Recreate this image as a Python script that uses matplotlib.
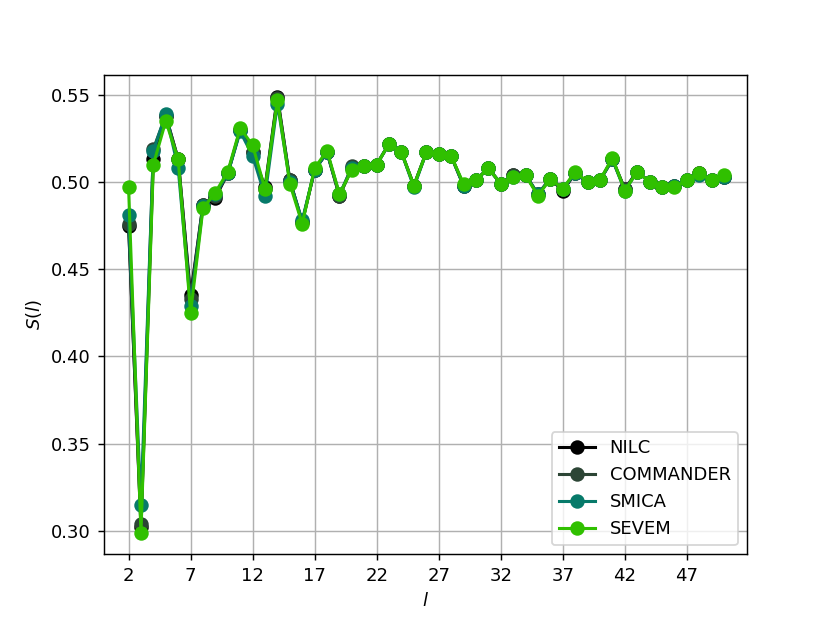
import numpy as np
import matplotlib
matplotlib.use("Agg")
import matplotlib.pyplot as plt

# multipoles
ell = np.arange(2, 51)

sevem = [0.497, 0.299, 0.510, 0.535, 0.513, 0.425, 0.485, 0.494, 0.506, 0.531,
         0.521, 0.496, 0.547, 0.499, 0.476, 0.508, 0.518, 0.493, 0.507, 0.509,
         0.510, 0.522, 0.517, 0.498, 0.517, 0.516, 0.515, 0.499, 0.501, 0.508,
         0.499, 0.503, 0.504, 0.492, 0.502, 0.496, 0.506, 0.500, 0.501, 0.514,
         0.495, 0.506, 0.500, 0.497, 0.497, 0.501, 0.505, 0.501, 0.504]

smica = [0.481, 0.315, 0.518, 0.539, 0.508, 0.429, 0.486, 0.493, 0.505, 0.529,
         0.515, 0.492, 0.545, 0.500, 0.478, 0.507, 0.517, 0.493, 0.508, 0.509,
         0.510, 0.522, 0.517, 0.497, 0.517, 0.516, 0.515, 0.498, 0.501, 0.508,
         0.499, 0.503, 0.504, 0.493, 0.502, 0.496, 0.505, 0.500, 0.501, 0.513,
         0.495, 0.506, 0.500, 0.497, 0.498, 0.501, 0.504, 0.501, 0.503]

commander = [0.476, 0.304, 0.519, 0.538, 0.513, 0.433, 0.487, 0.492, 0.505, 0.530,
             0.517, 0.496, 0.548, 0.501, 0.477, 0.507, 0.517, 0.492, 0.509, 0.509,
             0.510, 0.522, 0.517, 0.498, 0.517, 0.516, 0.515, 0.498, 0.501, 0.508,
             0.499, 0.504, 0.504, 0.493, 0.502, 0.496, 0.505, 0.500, 0.501, 0.513,
             0.496, 0.506, 0.500, 0.497, 0.498, 0.501, 0.505, 0.501, 0.503]

nilc = [0.475, 0.302, 0.513, 0.538, 0.513, 0.435, 0.487, 0.491, 0.505, 0.530,
        0.517, 0.497, 0.549, 0.501, 0.477, 0.507, 0.517, 0.492, 0.508, 0.509,
        0.510, 0.522, 0.517, 0.498, 0.517, 0.516, 0.515, 0.498, 0.501, 0.508,
        0.499, 0.504, 0.504, 0.493, 0.502, 0.495, 0.505, 0.500, 0.501, 0.513,
        0.496, 0.506, 0.500, 0.497, 0.498, 0.501, 0.505, 0.501, 0.503]

names = ["NILC", "COMMANDER", "SMICA", "SEVEM"]
colors = ["#000000", "#2c4535", "#077a6a", "#30c000"]

fig, ax = plt.subplots(figsize=(830 / 130, 623 / 130), dpi=130)

for vals, name, c in zip([nilc, commander, smica, sevem], names, colors):
    ax.plot(ell, vals, "o-", color=c, label=name, lw=1.7, ms=7)

ax.set_xticks(np.arange(2, 51, 5))
ax.set_xlim(0.0, 51.85)
ax.set_xlabel("$l$")
ax.set_ylabel("$S(l)$")
ax.grid(True, color="#b0b0b0", lw=0.8)
ax.legend(loc="lower right")

plt.savefig("out.png", dpi=130)
